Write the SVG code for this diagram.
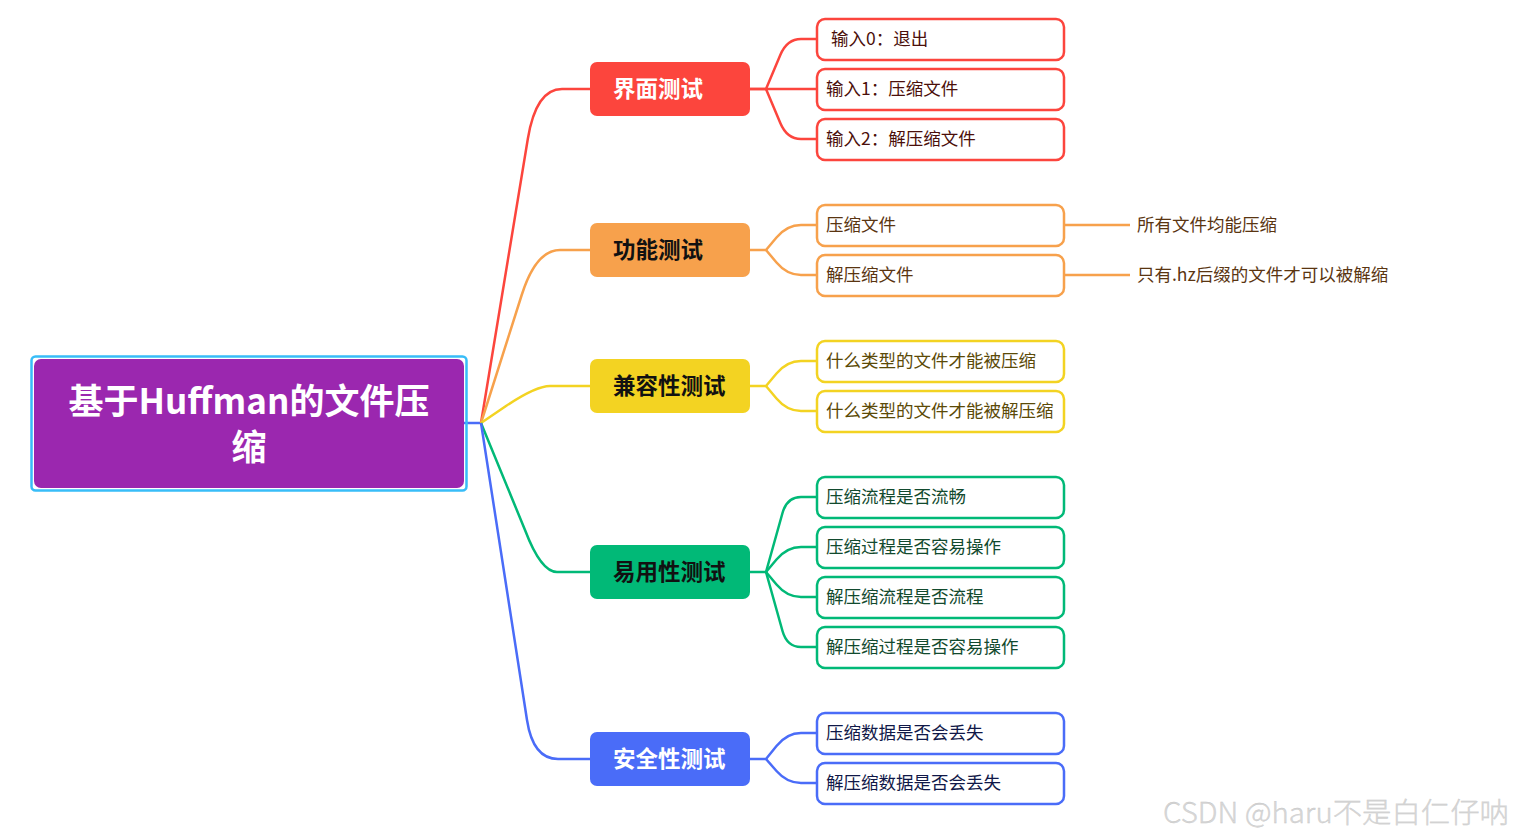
<svg xmlns="http://www.w3.org/2000/svg" width="1514" height="839" viewBox="0 0 1514 839">
<style>
text{font-family:"Noto Sans CJK SC","Noto Sans",sans-serif}
.main{font-size:22.5px;font-weight:700}
.child{font-size:17.5px}
.box{fill:#fff;stroke-width:2.5}
.conn path{fill:none;stroke-width:2.5;stroke-linejoin:round}
.red{stroke:#FC453D}.org{stroke:#F7A14C}.yel{stroke:#F3D322}.grn{stroke:#01B977}.blu{stroke:#4A6CF8}
</style>
<rect width="1514" height="839" fill="#fff"/>
<g id="connectors" class="conn">
<path class="blu" d="M464,423 L481,423"/>
<path class="red" d="M481,423 L527.8,139 Q536,89 562,89 L590,89"/>
<path class="org" d="M481,423 L521.7,295 Q536,250 560,250 L590,250"/>
<path class="yel" d="M481,423 L506,406 Q536,386 550,386 L590,386"/>
<path class="grn" d="M481,423 L525,530 Q541,572 557,572 L590,572"/>
<path class="blu" d="M481,423 L527,720 Q533,759 558,759 L590,759"/>
<path class="red" d="M750,89 L766,89 L780.3,55 Q787,39 801,39 L817,39"/>
<path class="red" d="M750,89 L817,89"/>
<path class="red" d="M766,89 L780.3,123 Q787,139 801,139 L817,139"/>
<path class="org" d="M750,250 L766,250 L776.5,237.5 Q787,225 801,225 L817,225"/>
<path class="org" d="M766,250 L776.5,262.5 Q787,275 801,275 L817,275"/>
<path class="org" d="M1064,225 L1130,225"/>
<path class="org" d="M1064,275 L1130,275"/>
<path class="yel" d="M750,386 L766,386 L776.5,373.5 Q787,361 801,361 L817,361"/>
<path class="yel" d="M766,386 L776.5,398.5 Q787,411 801,411 L817,411"/>
<path class="grn" d="M750,572 L766,572 L782.5,513 Q787,497 801,497 L817,497"/>
<path class="grn" d="M766,572 L776.5,559.5 Q787,547 801,547 L817,547"/>
<path class="grn" d="M766,572 L776.5,584.5 Q787,597 801,597 L817,597"/>
<path class="grn" d="M766,572 L782.5,631 Q787,647 801,647 L817,647"/>
<path class="blu" d="M750,759 L766,759 L776.5,746 Q787,733 801,733 L817,733"/>
<path class="blu" d="M766,759 L776.5,771 Q787,783 801,783 L817,783"/>
</g>
<g id="root">
<rect x="31.5" y="356.5" width="435" height="134" rx="4" fill="none" stroke="#38BDF8" stroke-width="2.5"/>
<rect x="34" y="359" width="430" height="129" rx="7" fill="#9B27AF"/>
<text x="249" y="414" text-anchor="middle" font-size="35" font-weight="700" fill="#fff">基于Huffman的文件压</text>
<text x="249" y="460" text-anchor="middle" font-size="35" font-weight="700" fill="#fff">缩</text>
</g>
<g id="n-jiemian">
<rect x="590" y="62" width="160" height="54" rx="7" fill="#FC453D"/>
<text class="main" x="613" y="97" fill="#fff">界面测试</text>
</g>
<g id="n-jiemian-1"><rect class="box red" x="817" y="19" width="247" height="41" rx="8"/><text class="child" x="831" y="45" fill="#4B0F0A">输入0：退出</text></g>
<g id="n-jiemian-2"><rect class="box red" x="817" y="69" width="247" height="41" rx="8"/><text class="child" x="826" y="95" fill="#4B0F0A">输入1：压缩文件</text></g>
<g id="n-jiemian-3"><rect class="box red" x="817" y="119" width="247" height="41" rx="8"/><text class="child" x="826" y="145" fill="#4B0F0A">输入2：解压缩文件</text></g>
<g id="n-gongneng">
<rect x="590" y="223" width="160" height="54" rx="7" fill="#F7A14C"/>
<text class="main" x="613" y="258" fill="#111">功能测试</text>
</g>
<g id="n-gongneng-1"><rect class="box org" x="817" y="205" width="247" height="41" rx="8"/><text class="child" x="826" y="231" fill="#5A3511">压缩文件</text></g>
<g id="n-gongneng-2"><rect class="box org" x="817" y="255" width="247" height="41" rx="8"/><text class="child" x="826" y="281" fill="#5A3511">解压缩文件</text></g>
<g id="n-gongneng-1-1"><text class="child" x="1137" y="231" fill="#5A3511">所有文件均能压缩</text></g>
<g id="n-gongneng-2-1"><text class="child" x="1137" y="281" fill="#5A3511">只有.hz后缀的文件才可以被解缩</text></g>
<g id="n-jianrong">
<rect x="590" y="359" width="160" height="54" rx="7" fill="#F3D322"/>
<text class="main" x="613" y="394" fill="#111">兼容性测试</text>
</g>
<g id="n-jianrong-1"><rect class="box yel" x="817" y="341" width="247" height="41" rx="8"/><text class="child" x="826" y="367" fill="#5B4A07">什么类型的文件才能被压缩</text></g>
<g id="n-jianrong-2"><rect class="box yel" x="817" y="391" width="247" height="41" rx="8"/><text class="child" x="826" y="417" fill="#5B4A07">什么类型的文件才能被解压缩</text></g>
<g id="n-yiyong">
<rect x="590" y="545" width="160" height="54" rx="7" fill="#01B977"/>
<text class="main" x="613" y="580" fill="#111">易用性测试</text>
</g>
<g id="n-yiyong-1"><rect class="box grn" x="817" y="477" width="247" height="41" rx="8"/><text class="child" x="826" y="503" fill="#124A2E">压缩流程是否流畅</text></g>
<g id="n-yiyong-2"><rect class="box grn" x="817" y="527" width="247" height="41" rx="8"/><text class="child" x="826" y="553" fill="#124A2E">压缩过程是否容易操作</text></g>
<g id="n-yiyong-3"><rect class="box grn" x="817" y="577" width="247" height="41" rx="8"/><text class="child" x="826" y="603" fill="#124A2E">解压缩流程是否流程</text></g>
<g id="n-yiyong-4"><rect class="box grn" x="817" y="627" width="247" height="41" rx="8"/><text class="child" x="826" y="653" fill="#124A2E">解压缩过程是否容易操作</text></g>
<g id="n-anquan">
<rect x="590" y="732" width="160" height="54" rx="7" fill="#4A6CF8"/>
<text class="main" x="613" y="767" fill="#fff">安全性测试</text>
</g>
<g id="n-anquan-1"><rect class="box blu" x="817" y="713" width="247" height="41" rx="8"/><text class="child" x="826" y="739" fill="#101848">压缩数据是否会丢失</text></g>
<g id="n-anquan-2"><rect class="box blu" x="817" y="763" width="247" height="41" rx="8"/><text class="child" x="826" y="789" fill="#101848">解压缩数据是否会丢失</text></g>
<text x="1163" y="823" font-size="28" font-weight="300" fill="#d8d8d8" stroke="#c4c4c4" stroke-width="0.3" textLength="346" lengthAdjust="spacingAndGlyphs">CSDN @haru不是白仁仔呐</text>
</svg>
